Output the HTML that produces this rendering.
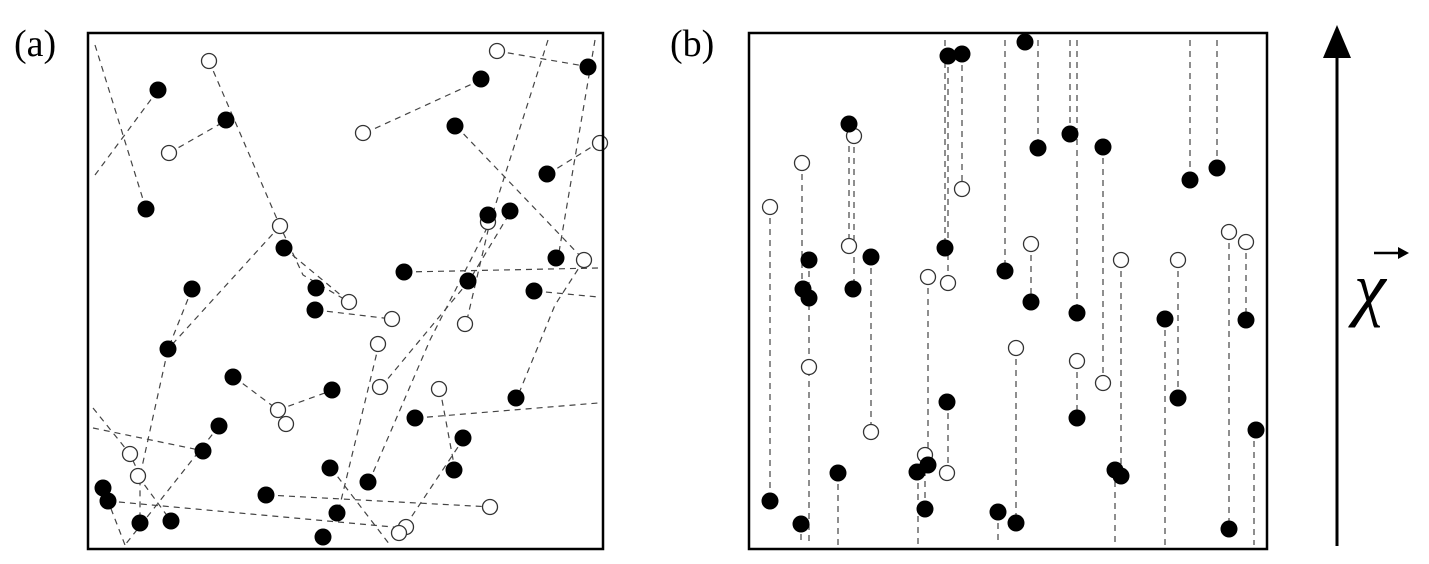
<!DOCTYPE html>
<html><head><meta charset="utf-8"><style>
html,body{margin:0;padding:0;background:#fff;}
svg{display:block;}
.serif{font-family:"Liberation Serif","DejaVu Serif",serif;}
</style></head><body>
<svg width="1429" height="564" viewBox="0 0 1429 564" xmlns="http://www.w3.org/2000/svg">
<rect width="1429" height="564" fill="#fff"/>
<text x="14" y="56" class="serif" font-size="38">(a)</text>
<text x="670" y="56" class="serif" font-size="38">(b)</text>

<!-- Panel a lines -->
<g stroke="#444" stroke-width="1.2" stroke-dasharray="6,5" fill="none">
<path d="M95,45 L146,209"/>
<path d="M95,175 L158,90"/>
<path d="M169,153 L227,120"/>
<path d="M209,61 L280,226 L303,275 L349,302"/>
<path d="M284,248 L349,302"/>
<path d="M280,226 L168,349"/>
<path d="M192,289 L168,349 L140,476 L140,523"/>
<path d="M365,133 L483,79"/>
<path d="M456,126 L584,260"/>
<path d="M497,51 L590,67"/>
<path d="M548,40 L490,222 L466,324"/>
<path d="M595,40 L558,258"/>
<path d="M584,260 L555,305 L517,398"/>
<path d="M548,174 L598,143"/>
<path d="M405,272 L598,268"/>
<path d="M535,291 L598,297"/>
<path d="M316,310 L392,319"/>
<path d="M234,377 L278,410 L333,390"/>
<path d="M278,410 L287,424"/>
<path d="M416,418 L598,403"/>
<path d="M440,389 L455,470"/>
<path d="M464,438 L404,528"/>
<path d="M379,344 L338,513"/>
<path d="M381,387 L469,281 L511,211"/>
<path d="M369,482 L430,340 L490,222"/>
<path d="M331,468 L390,545"/>
<path d="M267,495 L492,507"/>
<path d="M108,501 L404,528"/>
<path d="M93,408 L130,454 L140,476"/>
<path d="M93,428 L204,451"/>
<path d="M219,426 L125,545"/>
<path d="M103,488 L125,545"/>
<path d="M138,476 L171,521"/>
</g>

<g fill="#fff" stroke="#333" stroke-width="1.3">
<circle cx="209" cy="61" r="7.5"/><circle cx="497" cy="51" r="7.5"/><circle cx="363" cy="133" r="7.5"/>
<circle cx="169" cy="153" r="7.5"/><circle cx="280" cy="226" r="7.5"/><circle cx="488" cy="222" r="7.5"/>
<circle cx="584" cy="260" r="7.5"/><circle cx="349" cy="302" r="7.5"/><circle cx="392" cy="319" r="7.5"/>
<circle cx="465" cy="324" r="7.5"/><circle cx="378" cy="344" r="7.5"/><circle cx="380" cy="387" r="7.5"/>
<circle cx="439" cy="389" r="7.5"/><circle cx="278" cy="410" r="7.5"/><circle cx="286" cy="424" r="7.5"/>
<circle cx="130" cy="454" r="7.5"/><circle cx="138" cy="476" r="7.5"/><circle cx="490" cy="507" r="7.5"/>
<circle cx="406" cy="527" r="7.5"/><circle cx="399" cy="533" r="7.5"/><circle cx="600" cy="143" r="7.5"/>
</g>
<g fill="#000">
<circle cx="158" cy="90" r="8.5"/><circle cx="226" cy="120" r="8.5"/><circle cx="146" cy="209" r="8.5"/>
<circle cx="481" cy="79" r="8.5"/><circle cx="455" cy="126" r="8.5"/><circle cx="588" cy="67" r="8.5"/>
<circle cx="547" cy="174" r="8.5"/><circle cx="488" cy="215" r="8.5"/><circle cx="510" cy="211" r="8.5"/>
<circle cx="284" cy="248" r="8.5"/><circle cx="192" cy="289" r="8.5"/><circle cx="316" cy="288" r="8.5"/>
<circle cx="315" cy="310" r="8.5"/><circle cx="404" cy="272" r="8.5"/><circle cx="468" cy="281" r="8.5"/>
<circle cx="556" cy="258" r="8.5"/><circle cx="534" cy="291" r="8.5"/><circle cx="168" cy="349" r="8.5"/>
<circle cx="233" cy="377" r="8.5"/><circle cx="332" cy="390" r="8.5"/><circle cx="516" cy="398" r="8.5"/>
<circle cx="415" cy="418" r="8.5"/><circle cx="219" cy="426" r="8.5"/><circle cx="203" cy="451" r="8.5"/>
<circle cx="463" cy="438" r="8.5"/><circle cx="454" cy="470" r="8.5"/><circle cx="330" cy="468" r="8.5"/>
<circle cx="368" cy="482" r="8.5"/><circle cx="103" cy="488" r="8.5"/><circle cx="108" cy="501" r="8.5"/>
<circle cx="266" cy="495" r="8.5"/><circle cx="140" cy="523" r="8.5"/><circle cx="171" cy="521" r="8.5"/>
<circle cx="337" cy="513" r="8.5"/><circle cx="323" cy="537" r="8.5"/>
</g>
<rect x="88" y="33" width="515" height="516" fill="none" stroke="#000" stroke-width="2.5"/>

<g stroke="#444" stroke-width="1.2" stroke-dasharray="6,5" fill="none">
<path d="M945,40V248"/><path d="M948,56V283"/><path d="M962,54V189"/><path d="M1005,40V271"/>
<path d="M1038,40V148"/><path d="M1070,40V134"/><path d="M1077,40V313"/><path d="M1103,147V383"/>
<path d="M1190,40V180"/><path d="M1217,40V168"/><path d="M849,124V246"/><path d="M854,136V289"/>
<path d="M802,163V290"/><path d="M770,207V501"/><path d="M809,260V545"/><path d="M871,257V432"/>
<path d="M928,277V464"/><path d="M1031,244V302"/><path d="M1121,260V476"/><path d="M1178,260V398"/>
<path d="M1229,232V529"/><path d="M1246,242V320"/><path d="M801,523V545"/><path d="M838,473V545"/>
<path d="M918,472V545"/><path d="M925,470V509"/><path d="M948,402V473"/><path d="M1016,348V523"/>
<path d="M1077,361V418"/><path d="M1115,470V545"/><path d="M1165,319V545"/><path d="M1254,430V545"/>
<path d="M998,512V545"/>
</g>
<g fill="#fff" stroke="#333" stroke-width="1.3">
<circle cx="854" cy="136" r="7.5"/><circle cx="802" cy="163" r="7.5"/><circle cx="770" cy="207" r="7.5"/>
<circle cx="962" cy="189" r="7.5"/><circle cx="849" cy="246" r="7.5"/><circle cx="1031" cy="244" r="7.5"/>
<circle cx="928" cy="277" r="7.5"/><circle cx="948" cy="283" r="7.5"/><circle cx="1121" cy="260" r="7.5"/>
<circle cx="1178" cy="260" r="7.5"/><circle cx="1229" cy="232" r="7.5"/><circle cx="1246" cy="242" r="7.5"/>
<circle cx="809" cy="367" r="7.5"/><circle cx="871" cy="432" r="7.5"/><circle cx="925" cy="455" r="7.5"/>
<circle cx="947" cy="473" r="7.5"/><circle cx="1016" cy="348" r="7.5"/><circle cx="1077" cy="361" r="7.5"/>
<circle cx="1103" cy="383" r="7.5"/>
</g>
<g fill="#000">
<circle cx="948" cy="56" r="8.5"/><circle cx="962" cy="54" r="8.5"/><circle cx="1025" cy="42" r="8.5"/>
<circle cx="849" cy="124" r="8.5"/><circle cx="1038" cy="148" r="8.5"/><circle cx="1070" cy="134" r="8.5"/>
<circle cx="1103" cy="147" r="8.5"/><circle cx="1190" cy="180" r="8.5"/><circle cx="1217" cy="168" r="8.5"/>
<circle cx="945" cy="248" r="8.5"/><circle cx="809" cy="260" r="8.5"/><circle cx="871" cy="257" r="8.5"/>
<circle cx="1005" cy="271" r="8.5"/><circle cx="803" cy="289" r="8.5"/><circle cx="809" cy="298" r="8.5"/>
<circle cx="853" cy="289" r="8.5"/><circle cx="1031" cy="302" r="8.5"/><circle cx="1077" cy="313" r="8.5"/>
<circle cx="1165" cy="319" r="8.5"/><circle cx="1246" cy="320" r="8.5"/><circle cx="1178" cy="398" r="8.5"/>
<circle cx="947" cy="402" r="8.5"/><circle cx="1077" cy="418" r="8.5"/><circle cx="1256" cy="430" r="8.5"/>
<circle cx="838" cy="473" r="8.5"/><circle cx="917" cy="472" r="8.5"/><circle cx="928" cy="465" r="8.5"/>
<circle cx="1115" cy="470" r="8.5"/><circle cx="1121" cy="476" r="8.5"/><circle cx="770" cy="501" r="8.5"/>
<circle cx="925" cy="509" r="8.5"/><circle cx="998" cy="512" r="8.5"/><circle cx="1016" cy="523" r="8.5"/>
<circle cx="801" cy="524" r="8.5"/><circle cx="1229" cy="529" r="8.5"/>
</g>
<rect x="749" y="33" width="518" height="516" fill="none" stroke="#000" stroke-width="2.5"/>

<line x1="1337" y1="546" x2="1337" y2="55" stroke="#000" stroke-width="3"/>
<polygon points="1337,25 1323,58 1351,58" fill="#000"/>
<text x="1354" y="312" class="serif" font-style="italic" font-size="72">χ</text>
<line x1="1374" y1="253" x2="1403" y2="253" stroke="#000" stroke-width="2.5"/>
<polygon points="1409,253 1398,247 1398,259" fill="#000"/>
</svg>
</body></html>
